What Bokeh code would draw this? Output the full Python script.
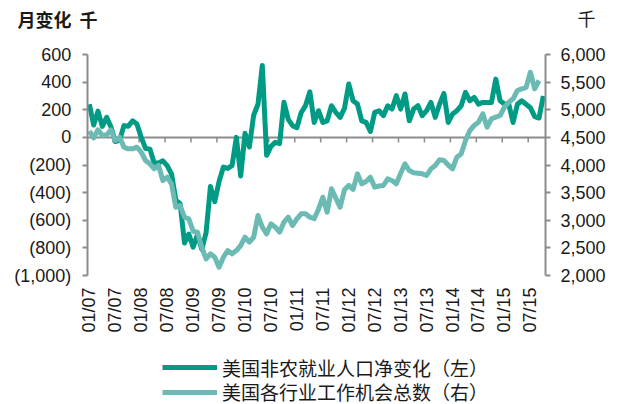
import numpy as np
from bokeh.plotting import figure
from bokeh.models import (Range1d, LinearAxis, FixedTicker, Legend,
                          LegendItem, Label, ColumnDataSource)
from bokeh.embed import file_html
from bokeh.resources import INLINE

# ---- data (monthly, 01/2007 .. 10/2015) ----
payroll_change = [240, 90, 190, 80, 145, 75, -30, -20, 85, 80, 120, 97,
                  0, -80, -85, -185, -185, -170, -205, -265, -455, -480, -765, -700,
                  -795, -705, -810, -690, -355, -465, -320, -215, -225, -205, 0, -280,
                  30, -70, 160, 240, 520, -130, -65, -36, -45, 255, 130, 85,
                  70, 180, 230, 330, 108, 193, 108, 120, 229, 181, 145, 210,
                  386, 265, 241, 120, 108, 43, 181, 193, 157, 229, 205, 302,
                  205, 314, 120, 205, 229, 157, 193, 253, 145, 241, 318, 108,
                  169, 193, 229, 326, 265, 289, 241, 253, 253, 253, 422, 265,
                  241, 241, 108, 240, 265, 240, 215, 150, 140, 300]
job_openings = [4612, 4492, 4637, 4534, 4546, 4637, 4443, 4503, 4322, 4293, 4293, 4322,
                4232, 4081, 4021, 3931, 3991, 3719, 3779, 3660, 3236, 3267, 3055, 3025,
                2800, 2784, 2512, 2302, 2392, 2332, 2150, 2332, 2452, 2392, 2452, 2543,
                2693, 2603, 2693, 3086, 2874, 2754, 2935, 2874, 2784, 2965, 3055, 2905,
                3025, 3116, 3116, 3055, 3030, 3200, 3417, 3146, 3569, 3400, 3236, 3550,
                3629, 3560, 3840, 3660, 3700, 3779, 3598, 3620, 3629, 3750, 3720, 3660,
                3850, 4021, 3900, 3860, 3852, 3840, 3810, 3930, 3990, 4094, 4082, 4000,
                3931, 4142, 4203, 4443, 4624, 4715, 4775, 4926, 4685, 4836, 4866, 4896,
                5046, 5137, 5198, 5348, 5379, 5400, 5680, 5379, 5529]
x_tick_labels = ["01/07", "07/07", "01/08", "07/08", "01/09", "07/09", "01/10", "07/10",
                 "01/11", "07/11", "01/12", "07/12", "01/13", "07/13", "01/14", "07/14",
                 "01/15", "07/15"]
left_ticks = [-1000, -800, -600, -400, -200, 0, 200, 400, 600]
left_tick_labels = ["(1,000)", "(800)", "(600)", "(400)", "(200)", "0", "200", "400", "600"]
right_ticks = [2000, 2500, 3000, 3500, 4000, 4500, 5000, 5500, 6000]
right_tick_labels = ["2,000", "2,500", "3,000", "3,500", "4,000", "4,500", "5,000", "5,500", "6,000"]
series_names = ["美国非农就业人口净变化（左）", "美国各行业工作机会总数（右）"]
left_unit_title = "月变化"
unit_text = "千"

DARK = "#009B84"
LIGHT = "#6BBAB3"
AXIS = "#8C8C8C"
TXT = "#1a1a1a"
NUM_FONT = "Liberation Sans"
CJK_FONT = "Noto Sans CJK SC"

# ---- page geometry (pixels): the plotting box inside the 617x404 canvas ----
W, H = 617, 404
BOX_L, BOX_R, BOX_T, BOX_B = 86.7, 545.0, 54.0, 275.0

n = len(payroll_change)
x_lo, x_hi = -0.5, n - 0.5
ppx = (BOX_R - BOX_L) / (x_hi - x_lo)
yl_lo, yl_hi = left_ticks[0], left_ticks[-1]
ppy_l = (BOX_B - BOX_T) / (yl_hi - yl_lo)
yr_lo, yr_hi = right_ticks[0], right_ticks[-1]
ppy_r = (BOX_B - BOX_T) / (yr_hi - yr_lo)

x_range = Range1d(x_lo - BOX_L / ppx, x_hi + (W - BOX_R) / ppx)
y_range = Range1d(yl_lo - (H - BOX_B) / ppy_l, yl_hi + BOX_T / ppy_l)
y_range_r = Range1d(yr_lo - (H - BOX_B) / ppy_r, yr_hi + BOX_T / ppy_r)

src1 = ColumnDataSource(dict(x=np.arange(n), y=payroll_change))
src2 = ColumnDataSource(dict(x=np.arange(len(job_openings)), y=job_openings))

p = figure(width=W, height=H, output_backend="svg", toolbar_location=None,
           x_range=x_range, y_range=y_range, title=None,
           min_border_left=0, min_border_right=0, min_border_top=0, min_border_bottom=0)
p.extra_y_ranges = {"right": y_range_r}
p.outline_line_color = None
p.grid.visible = False
p.background_fill_color = "white"
p.border_fill_color = "white"

# zero line with category tick marks
p.segment(x0=[x_lo], x1=[x_hi], y0=[0], y1=[0], line_color=AXIS, line_width=2)
step = 6
bounds = [k * step - 0.5 for k in range(1, len(x_tick_labels))]
tick_len = 5 / ppy_l
p.segment(x0=bounds, x1=bounds, y0=[0] * len(bounds), y1=[-tick_len] * len(bounds),
          line_color=AXIS, line_width=1.5)

r1 = p.line("x", "y", source=src1, line_color=DARK, line_width=5, line_join="round")
r2 = p.line("x", "y", source=src2, line_color=LIGHT, line_width=5, line_join="round",
            y_range_name="right")

# category axis (labels only) along the bottom of the plotting box
xa = p.xaxis[0]
xa.fixed_location = yl_lo
xa.ticker = FixedTicker(ticks=[i * step for i in range(len(x_tick_labels))])
xa.major_label_overrides = {i * step: lbl for i, lbl in enumerate(x_tick_labels)}
xa.major_label_orientation = np.pi / 2
xa.axis_line_color = None
xa.major_tick_line_color = None
xa.minor_tick_line_color = None
xa.major_tick_in = 0
xa.major_tick_out = 0
xa.major_label_standoff = 12
xa.major_label_text_font = NUM_FONT
xa.major_label_text_font_size = "18px"
xa.major_label_text_color = TXT


def style_y(ax, ticks, labels, standoff):
    ax.ticker = FixedTicker(ticks=ticks)
    ax.bounds = (ticks[0], ticks[-1])
    ax.major_label_overrides = {t: l for t, l in zip(ticks, labels)}
    ax.axis_line_color = AXIS
    ax.axis_line_width = 2
    ax.major_tick_line_color = AXIS
    ax.major_tick_line_width = 2
    ax.major_tick_in = 0
    ax.major_tick_out = 5
    ax.minor_tick_line_color = None
    ax.major_label_standoff = standoff
    ax.major_label_text_font = NUM_FONT
    ax.major_label_text_font_size = "18px"
    ax.major_label_text_color = TXT


ya = p.yaxis[0]
ya.fixed_location = x_lo
style_y(ya, left_ticks, left_tick_labels, 11)

yr = LinearAxis(y_range_name="right", fixed_location=x_hi)
style_y(yr, right_ticks, right_tick_labels, 10)
p.add_layout(yr, "right")

# unit titles
p.add_layout(Label(x=17, y=H - 18.5, x_units="screen", y_units="screen", text=left_unit_title,
                   text_font=CJK_FONT, text_font_size="18px", text_font_style="bold",
                   text_color=TXT, text_baseline="middle"))
p.add_layout(Label(x=79, y=H - 18.5, x_units="screen", y_units="screen", text=unit_text,
                   text_font=CJK_FONT, text_font_size="18px", text_font_style="bold",
                   text_color=TXT, text_baseline="middle"))
p.add_layout(Label(x=577, y=H - 17, x_units="screen", y_units="screen", text=unit_text,
                   text_font=CJK_FONT, text_font_size="18px",
                   text_color=TXT, text_baseline="middle"))

# series legend: one entry per legend so each row sits at its own height
ITEM_H = 28
for name, rend, center_y in ((series_names[0], r1, 367.0), (series_names[1], r2, 391.5)):
    lg = Legend(items=[LegendItem(label=name, renderers=[rend])],
                location=(162, H - (center_y + ITEM_H / 2)), orientation="vertical",
                glyph_width=55, glyph_height=ITEM_H, label_height=ITEM_H, spacing=0,
                label_standoff=5, padding=0, margin=0,
                border_line_color=None, background_fill_alpha=0,
                label_text_font=CJK_FONT, label_text_font_size="19px",
                label_text_color=TXT, label_text_baseline="middle")
    p.add_layout(lg, "center")

open("out.html", "w").write(file_html(p, INLINE))
